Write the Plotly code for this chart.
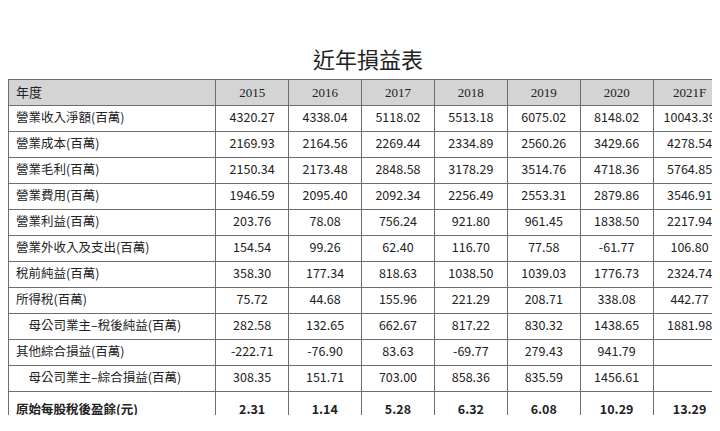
import plotly.graph_objects as go

years = ["2015", "2016", "2017", "2018", "2019", "2020", "2021F"]
items = ["營業收入淨額(百萬)", "營業成本(百萬)", "營業毛利(百萬)", "營業費用(百萬)",
         "營業利益(百萬)", "營業外收入及支出(百萬)", "稅前純益(百萬)", "所得稅(百萬)",
         "　母公司業主–稅後純益(百萬)", "其他綜合損益(百萬)", "　母公司業主–綜合損益(百萬)",
         "原始每股稅後盈餘(元)"]
v2015 = ["4320.27", "2169.93", "2150.34", "1946.59", "203.76", "154.54", "358.30", "75.72", "282.58", "-222.71", "308.35", "2.31"]
v2016 = ["4338.04", "2164.56", "2173.48", "2095.40", "78.08", "99.26", "177.34", "44.68", "132.65", "-76.90", "151.71", "1.14"]
v2017 = ["5118.02", "2269.44", "2848.58", "2092.34", "756.24", "62.40", "818.63", "155.96", "662.67", "83.63", "703.00", "5.28"]
v2018 = ["5513.18", "2334.89", "3178.29", "2256.49", "921.80", "116.70", "1038.50", "221.29", "817.22", "-69.77", "858.36", "6.32"]
v2019 = ["6075.02", "2560.26", "3514.76", "2553.31", "961.45", "77.58", "1039.03", "208.71", "830.32", "279.43", "835.59", "6.08"]
v2020 = ["8148.02", "3429.66", "4718.36", "2879.86", "1838.50", "-61.77", "1776.73", "338.08", "1438.65", "941.79", "1456.61", "10.29"]
v2021 = ["10043.39", "4278.54", "5764.85", "3546.91", "2217.94", "106.80", "2324.74", "442.77", "1881.98", "", "", "13.29"]

def bold_last(col):
    return col[:-1] + [f"<b>{col[-1]}</b>"]

cols = [bold_last(c) for c in [items, v2015, v2016, v2017, v2018, v2019, v2020, v2021]]

fig = go.Figure(go.Table(
    columnwidth=[208] + [73] * 7,
    domain=dict(x=[0, 718 / 720], y=[1 - 408 / 431, 1 - 71 / 431]),
    header=dict(
        values=["年度"] + years,
        fill_color="#d4d4d4",
        line=dict(color="#6e6e6e", width=1),
        align=["left"] + ["center"] * 7,
        font=dict(family=["Noto Sans CJK TC"] + ["Liberation Serif"] * 7, size=13, color="#222"),
        height=26,
    ),
    cells=dict(
        values=cols,
        fill_color="white",
        line=dict(color="#6e6e6e", width=1),
        align=["left"] + ["center"] * 7,
        font=dict(family="Noto Sans CJK TC", size=12.5, color="#222"),
        height=26,
    ),
))
fig.add_annotation(text="近年損益表", x=0.5, y=1 - 32 / 431, xref="paper", yref="paper",
                   showarrow=False, font=dict(family="Noto Sans CJK TC", size=22, color="#222"))
fig.update_layout(width=720, height=431, margin=dict(l=0, r=0, t=0, b=0),
                  paper_bgcolor="white", plot_bgcolor="white")
fig.write_html("out.html")
